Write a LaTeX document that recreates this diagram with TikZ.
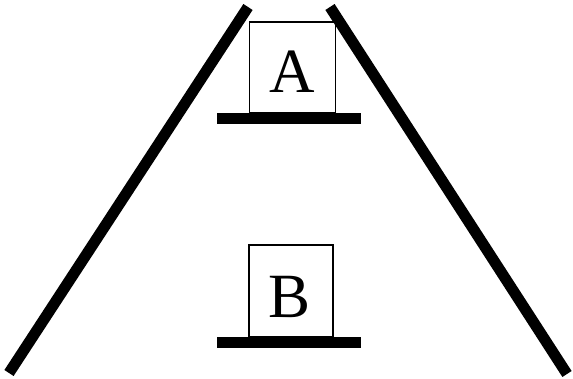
\documentclass[tikz,border=0pt]{standalone}
\usepackage{fontspec}
\setmainfont{Liberation Serif}
\begin{document}
\begin{tikzpicture}[x=1pt,y=1pt,
  wall/.style={line width=11pt, line cap=butt},
  shelf/.style={line width=10.5pt, line cap=butt},
  crate/.style={draw, line width=1.1pt, inner sep=0pt},
  letter/.style={font=\fontsize{63}{63}\selectfont, anchor=base, inner sep=0pt}]
\useasboundingbox (0,0) rectangle (573,379);
% walls
\coordinate (L1) at (9,6);
\coordinate (L2) at (248,372);
\coordinate (R1) at (330,372);
\coordinate (R2) at (567,5);
\draw[wall] (L1) -- (L2);
\draw[wall] (R1) -- (R2);
% shelves
\coordinate (SA1) at (217,260.5);
\coordinate (SA2) at (361,260.5);
\coordinate (SB1) at (217,36.5);
\coordinate (SB2) at (361,36.5);
\draw[shelf] (SA1) -- (SA2);
\draw[shelf] (SB1) -- (SB2);
% boxes
\node[crate, minimum width=86pt, minimum height=91pt] (boxA) at (292.5,311.5) {};
\node[crate, minimum width=84pt, minimum height=92pt] (boxB) at (291,88) {};
\node[letter] (tA) at (292.5,286) {A};
\node[letter] (tB) at (290,61) {B};
\end{tikzpicture}
\end{document}
